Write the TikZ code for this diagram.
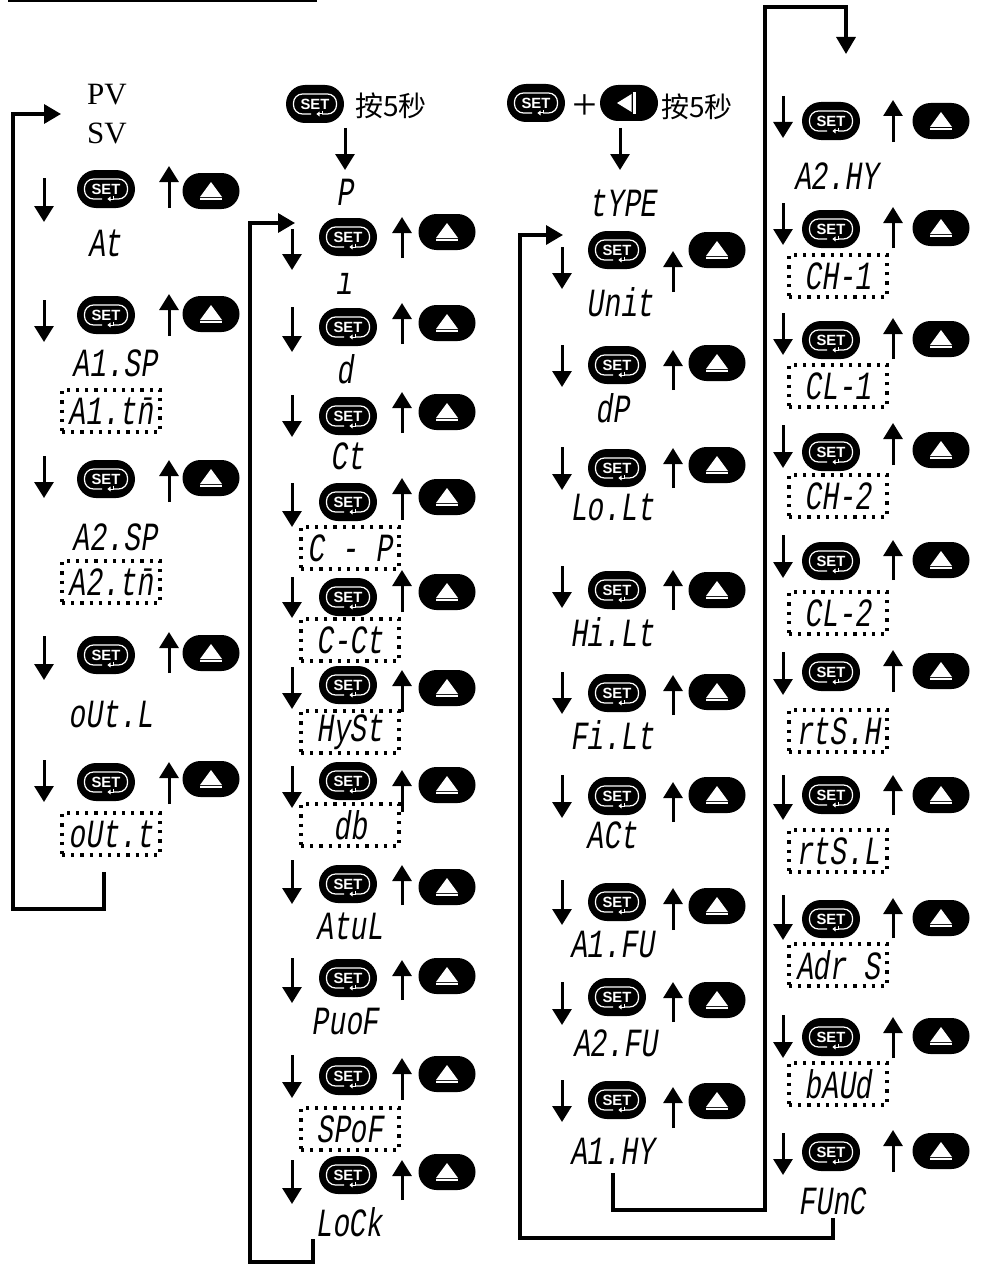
\documentclass[tikz,border=0pt]{standalone}
\usepackage{fontspec}
\setmainfont{Liberation Serif}
\newfontfamily\cnfont{Noto Sans CJK SC}
\newfontfamily\lcdfont[FakeSlant=0.15,FakeStretch=0.7]{Liberation Mono}
\newfontfamily\keyfont{Liberation Sans}
\usetikzlibrary{arrows.meta}

\tikzset{
  setkey/.style={fill=black, rounded corners=9.5pt, minimum width=29pt, minimum height=19pt, inner sep=0pt,
    text=white, font=\keyfont\bfseries\fontsize{7.4pt}{7.4pt}\selectfont,
    path picture={
      \draw[white, line width=0.6pt, rounded corners=4.5pt] ([shift={(-2pt,-5pt)}]path picture bounding box.center)
        -- ++(-8.75pt,0) -- ++(0,10pt) -- ++(21.5pt,0) -- ++(0,-10pt) -- ++(-7.25pt,0);
      \draw[white, line width=0.5pt, sharp corners, -{Triangle[length=1.6pt,width=2.4pt]}] ([shift={(3.5pt,-3.4pt)}]path picture bounding box.center) -- ++(0,-1.6pt) -- ++(-2.8pt,0);
    }},
  upkey/.style={fill=black, rounded corners=9pt, minimum width=28.5pt, minimum height=18pt, inner sep=0pt,
    path picture={
      \fill[white, sharp corners] ([shift={(0pt,4.5pt)}]path picture bounding box.center) -- ++(5.5pt,-7.5pt) -- ++(-11pt,0) -- cycle;
      \fill[white, sharp corners] ([shift={(-5.5pt,-3.7pt)}]path picture bounding box.center) rectangle ++(11pt,-1pt);
    }},
  leftkey/.style={fill=black, rounded corners=9pt, minimum width=29pt, minimum height=18pt, inner sep=0pt,
    path picture={
      \fill[white, sharp corners] ([shift={(-6pt,0pt)}]path picture bounding box.center) -- ++(7.3pt,4.5pt) -- ++(0,-9pt) -- cycle;
      \fill[white, sharp corners] ([shift={(2.2pt,-5.5pt)}]path picture bounding box.center) rectangle ++(1.4pt,11pt);
    }},
  keyarrow/.style={line width=1.5pt, -{Triangle[length=8pt,width=9.5pt]}},
  looparrow/.style={line width=1.7pt, -{Triangle[length=8.5pt,width=9.5pt]}},
  lcd/.style={inner sep=0pt, font=\lcdfont\fontsize{20pt}{20pt}\selectfont},
  lcdbox/.style={lcd, draw, line width=1.6pt, dash pattern=on 1.6pt off 3pt, minimum width=49pt, minimum height=21pt},
  serif/.style={inner sep=0pt, font=\fontsize{15.5pt}{15.5pt}\selectfont},
  press/.style={inner sep=0pt, font=\cnfont\fontsize{14pt}{14pt}\selectfont}
}

% id, x of set key, up key, down arrow, up arrow, then the rows
\newcommand{\keyrows}[6]{
  \foreach \sy/\uy/\da/\db/\ua/\ub [count=\i] in {#6} {
    \node[setkey] (#1set\i) at (#2,\sy) {SET};
    \node[upkey] (#1up\i) at (#3,\uy) {};
    \coordinate (#1dfrom\i) at (#4,\da);
    \coordinate (#1dto\i) at (#4,\db);
    \coordinate (#1ufrom\i) at (#5,\ua);
    \coordinate (#1uto\i) at (#5,\ub);
    \draw[keyarrow] (#1dfrom\i) -- (#1dto\i);
    \draw[keyarrow] (#1ufrom\i) -- (#1uto\i);
  }
}

\begin{document}
\begin{tikzpicture}[x=0.5pt, y=-0.5pt]
  \useasboundingbox (0,0) rectangle (981,1268);
  \draw[line width=1.1pt] (8,1) -- (317,1);

  % first column
  \node[serif] (pv) at (107,95) {PV};
  \node[serif] (sv) at (107,133) {SV};
  \keyrows{a}{106}{211}{44}{169}{
    189/191/178/222/208/166, 315/314/300/342/336/294, 479/478/456/498/502/460,
    655/653/636/680/673/632, 782/779/760/802/804/762}
  \foreach \nm/\txt/\x/\y in {at/At/105/243, aasp/A1.SP/115/363, bbsp/A2.SP/115/537, outl/oUt.L/111/714}
    \node[lcd] (\nm) at (\x,\y) {\txt};
  \foreach \nm/\txt/\x/\y in {aatm/A1.t\=n/111/411, bbtm/A2.t\=n/111/582, outt/oUt.t/111/834}
    \node[lcdbox] (\nm) at (\x,\y) {\txt};
  \coordinate (loopa) at (104,872);
  \coordinate (pvin) at (61,114);
  \draw[looparrow] (loopa) |- (13,909) |- (pvin);

  % second column
  \node[setkey] (setb) at (315,104) {SET};
  \node[press, right=0pt] (pressb) at (355,106) {按5秒};
  \coordinate (bfrom) at (345,128);
  \coordinate (bto) at (345,170);
  \draw[keyarrow] (bfrom) -- (bto);
  \keyrows{b}{348}{447}{292}{402}{
    237/232/229/270/258/217, 327/323/307/352/344/303, 416/412/395/437/433/392,
    502/497/483/527/520/478, 597/592/577/618/612/570, 685/688/667/709/712/670,
    781/785/766/808/812/770, 884/887/860/904/905/865, 978/976/958/1003/1000/960,
    1076/1074/1055/1098/1100/1058, 1175/1172/1160/1204/1200/1160}
  \foreach \nm/\txt/\x/\y in {p/P/345/192, i/ı/344/284, d/d/345/369, ct/Ct/347/456, atul/AtuL/350/926,
      puof/PuoF/345/1022, lock/LoCk/349/1222}
    \node[lcd] (\nm) at (\x,\y) {\txt};
  \foreach \nm/\txt/\y in {cp/C - P/548, cct/C-Ct/640, hyst/HySt/732, db/db/825, spof/SPoF/1129}
    \node[lcdbox] (\nm) at (350,\y) {\txt};
  \coordinate (loopb) at (313,1239);
  \coordinate (pin) at (295,223);
  \draw[looparrow] (loopb) |- (250,1262) |- (pin);

  % third column
  \node[setkey] (setc) at (536,103) {SET};
  \node[inner sep=0pt, font=\fontsize{22pt}{22pt}\selectfont] (plus) at (585,107) {+};
  \node[leftkey] (leftc) at (629,103) {};
  \node[press, right=0pt] (pressc) at (661,107) {按5秒};
  \coordinate (cfrom) at (620,128);
  \coordinate (cto) at (620,170);
  \draw[keyarrow] (cfrom) -- (cto);
  \node[lcd] (type) at (623,203) {tYPE};
  \keyrows{c}{617}{717}{562}{673}{
    250/250/247/289/292/251, 365/363/345/387/390/350, 468/465/447/490/488/448,
    590/590/566/608/610/570, 693/692/672/714/715/675, 796/795/775/818/822/782,
    902/906/880/925/930/888, 997/1000/982/1025/1022/982, 1100/1101/1080/1122/1128/1087}
  \foreach \nm/\txt/\x/\y in {unit/Unit/620/302, dp/dP/612/408, lolt/Lo.Lt/612/507, hilt/Hi.Lt/612/632,
      filt/Fi.Lt/612/735, act/ACt/612/835, aafu/A1.FU/612/945, bbfu/A2.FU/615/1043, aahy/A1.HY/612/1151}
    \node[lcd] (\nm) at (\x,\y) {\txt};
  \coordinate (loopc) at (613,1173);
  \coordinate (bbin) at (846,54);
  \draw[looparrow] (loopc) |- (765,1210) |- (846,7) -- (bbin);

  % fourth column
  \keyrows{d}{831}{941}{783}{893}{
    121/121/96/138/142/100, 229/228/203/245/248/207, 340/339/313/355/359/318,
    452/450/425/468/465/423, 561/560/535/578/580/540, 672/671/652/695/692/650,
    795/795/775/820/815/775, 919/918/895/940/938/898, 1037/1036/1015/1058/1058/1017,
    1152/1151/1133/1175/1172/1130}
  \foreach \nm/\txt/\x/\y in {bbhy/A2.HY/836/176, func/FUnC/832/1201}
    \node[lcd] (\nm) at (\x,\y) {\txt};
  \foreach \nm/\txt/\y in {cha/CH-1/276, cla/CL-1/386, chb/CH-2/496, clb/CL-2/613, rtsh/rtS.H/731,
      rtsl/rtS.L/851, adrs/Adr S/965, baud/bAUd/1084}
    \node[lcdbox] (\nm) at (838,\y) {\txt};
  \coordinate (loopd) at (833,1218);
  \coordinate (uin) at (563,235);
  \draw[looparrow] (loopd) |- (520,1238) |- (uin);
\end{tikzpicture}
\end{document}
